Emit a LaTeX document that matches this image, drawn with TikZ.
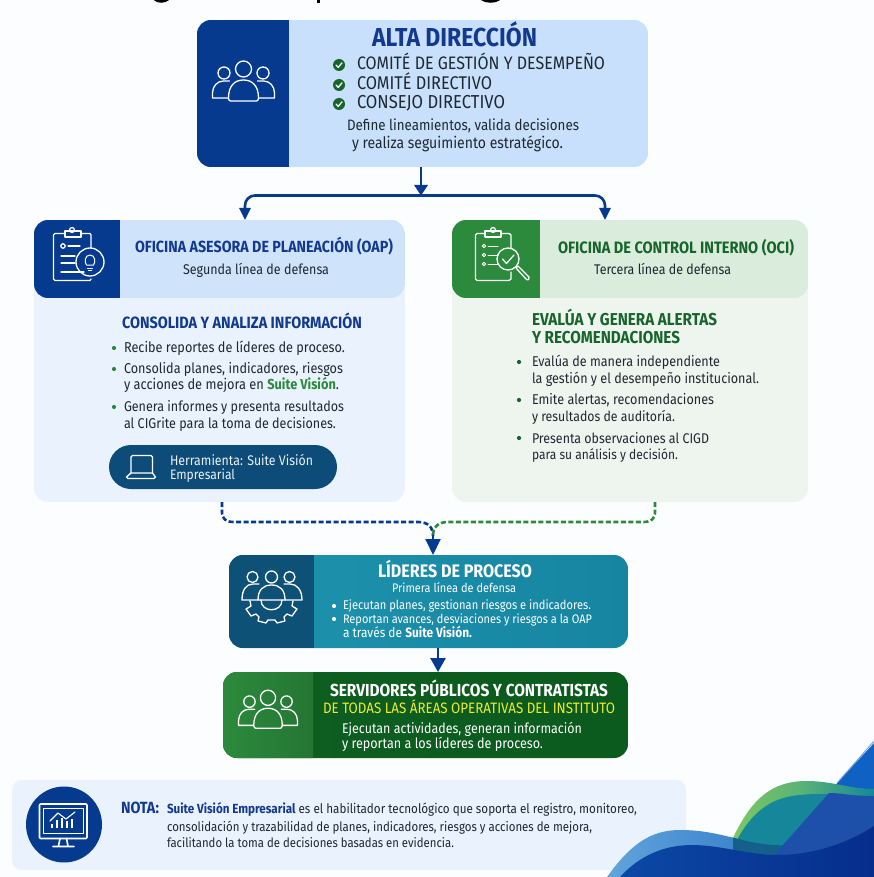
\documentclass[tikz,border=0pt]{standalone}
\usepackage{fontspec}
\usepackage{graphicx}
\setmainfont{Fira Sans}
\usetikzlibrary{arrows.meta,calc}
\definecolor{navy}{HTML}{053A8E}
\definecolor{headnavy}{HTML}{12398F}
\definecolor{topfill}{HTML}{C8E0FB}
\definecolor{oaphead}{HTML}{CFE3FB}
\definecolor{oapbody}{HTML}{EAF3FD}
\definecolor{ocihead}{HTML}{DAECDB}
\definecolor{ocibody}{HTML}{EEF5EF}
\definecolor{green1}{HTML}{2B8A3C}
\definecolor{headgreen}{HTML}{17652B}
\definecolor{inktext}{HTML}{1E2830}
\definecolor{pillblue}{HTML}{0D4B78}
\definecolor{tealA}{HTML}{1E93AE}
\definecolor{tealB}{HTML}{1685A2}
\definecolor{tealdark}{HTML}{0D5176}
\definecolor{greendark}{HTML}{0B5A1E}
\definecolor{yellowtxt}{HTML}{EDED2E}
\definecolor{notefill}{HTML}{E9F2FD}
\definecolor{pagebg}{HTML}{FCFDFE}
\definecolor{wLight}{HTML}{3F86CC}
\definecolor{wLighter}{HTML}{62A6DC}
\definecolor{wBandA}{HTML}{15608A}
\definecolor{wBandB}{HTML}{1D50A6}
\definecolor{wTeal}{HTML}{16879A}
\definecolor{wBlue}{HTML}{1C50AA}
\definecolor{wTop}{HTML}{0F62C4}
\definecolor{wNavyA}{HTML}{0C48A5}
\definecolor{wNavyB}{HTML}{062D8C}
\definecolor{wGreen}{HTML}{7CC863}
\tikzset{
  txt/.style={inner sep=0pt,outer sep=0pt,anchor=base west,text=inktext,font=\fontsize{14}{16}\selectfont},
  hb/.style={txt,font=\fontsize{14}{16}\selectfont\bfseries},
  icon/.style={draw=white,line width=1.3pt,line join=round,line cap=round,fill=none},
  conn/.style={draw=navy,line width=2pt},
  cardnode/.style={inner sep=0pt,outer sep=0pt,anchor=north west}
}
\newcommand\T[6][]{\node[txt,#1] (#2) at (#3,#4) {\scalebox{1}[1.13]{\resizebox{#5pt}{!}{#6}}};}
\newcommand\card[9]{%
  \node[cardnode,minimum width=#4pt-#2pt,minimum height=#5pt-#3pt] (#1) at (#2,#3) {};
  \begin{scope}
    \clip[rounded corners=#6pt] (#2,#3) rectangle (#4,#5);
    \path[#7] (#2,#3) rectangle (#4,#5);
    \path[#9] (#2,#3) rectangle (#8,#5);
  \end{scope}}
\newcommand\people[3]{%
  \begin{scope}[shift={(#1,#2)},scale=#3]
    \draw[icon] (0,-16) circle[radius=8];
    \draw[icon] (-15,13) .. controls (-15,1) and (-9,-5) .. (0,-5) .. controls (9,-5) and (15,1) .. (15,13) .. controls (15,15) and (14,16) .. (13,16) -- (-13,16) .. controls (-14,16) and (-15,15) .. (-15,13) -- cycle;
    \draw[icon] (-19.5,-12) circle[radius=6];
    \draw[icon] (19.5,-12) circle[radius=6];
    \draw[icon] (-15,13) -- (-31,13) -- (-31,8) .. controls (-31,1) and (-26,-4) .. (-20,-4) -- (-14,-4);
    \draw[icon] (15,13) -- (31,13) -- (31,8) .. controls (31,1) and (26,-4) .. (20,-4) -- (14,-4);
  \end{scope}}
\newcommand\chk[2]{%
  \fill[headgreen] (#1,#2) circle[radius=6];
  \draw[white,line width=1.3pt,line cap=round,line join=round] (#1-3,#2) -- (#1-.8,#2+2.4) -- (#1+3,#2-2.2);}
\newcommand\bul[3]{\fill[#3] (#1,#2) circle[radius=2.1];}
\begin{document}
\begin{tikzpicture}[x=1pt,y=-1pt]
\useasboundingbox (0,0) rectangle (874,877);
\fill[pagebg] (0,0) rectangle (874,877);
% cut-off title: only the descenders remain
\begin{scope}
  \clip (0,0) rectangle (874,877);
  \draw[black,line width=3pt,line cap=round] (155,-1) .. controls (158,2) and (164,2) .. (168,-1);
  \draw[black,line width=3.4pt] (318.5,-2) -- (318.5,3);
  \draw[black,line width=3pt,line cap=round] (482,-1) .. controls (486,2) and (495,2) .. (499,-1);
\end{scope}

% ---- note box first: the waves overlap it
\node[cardnode,minimum width=674pt,minimum height=90pt,rounded corners=10pt,fill=notefill] (note) at (12,780) {};
\node[circle,fill=navy,minimum size=76pt,inner sep=0pt] (notec) at (64,824.5) {};
\T[hb,text=headnavy]{n0}{121}{813}{38}{NOTA:}
\T{n1}{167}{813}{470}{\textcolor{headnavy}{\bfseries Suite Visión Empresarial} es el habilitador tecnológico que soporta el registro, monitoreo,}
\T{n2}{167}{831}{425}{consolidación y trazabilidad de planes, indicadores, riesgos y acciones de mejora,}
\T{n3}{167}{847}{287}{facilitando la toma de decisiones basadas en evidencia.}
% monitor
\draw[icon,line width=1.6pt,rounded corners=1pt] (39.5,804) rectangle (87,838.5);
\draw[icon,line width=1pt] (43.5,808) rectangle (83,833.5);
\draw[icon,line width=1.6pt] (60,838.5) -- (58.5,846) (66.5,838.5) -- (68,846) (53,846.5) -- (74,846.5);
\draw[icon,line width=1.1pt] (50,821) -- (58,813) -- (66,819) -- (75,812);
\foreach \xx/\hh in {52/4,57/8,62/10,67/7,72/9}{\draw[white,line width=2.2pt] (\xx,828) -- (\xx,828-\hh);}

% ---- decoration
\begin{scope}
  \clip (0,0) rectangle (874,877);
  \fill[wTop] (874,743) -- (838,782) -- (800,830) -- (874,830) -- cycle;
  \draw[white!35!wTop,line width=.8pt] (874,741) -- (838,782);
  \shade[left color=wGreen,right color=wTeal,middle color=wGreen!65!wTeal]
    (733,838) .. controls (752,798) and (772,781) .. (807,781) .. controls (832,781) and (850,789) .. (874,789) -- (874,860) -- (733,860) -- cycle;
  \fill[wTeal] (738,838) .. controls (755,808) and (775,797) .. (800,795) .. controls (830,792) and (850,797) .. (874,794) -- (874,860) -- (738,860) -- cycle;
  \fill[wBlue] (829,793) -- (783,845) -- (757,877) -- (874,877) -- (874,796) .. controls (855,797) and (845,793) .. (829,793) -- cycle;
  \begin{scope}
    \clip (607,877) .. controls (630,845) and (650,830) .. (680,830) .. controls (705,830) and (720,835) .. (735,838) .. controls (760,845) and (775,846) .. (800,845) .. controls (830,843) and (855,832) .. (874,822) -- (874,877) -- cycle;
    \shade[left color=wLighter,right color=wLight] (600,820) rectangle (733,877);
    \fill[wBandA] (733,820) rectangle (790,877);
    \fill[wBandB] (783,845) -- (757,877) -- (874,877) -- (874,820) -- (804,820) -- cycle;
  \end{scope}
  \shade[left color=wNavyA,right color=wNavyB]
    (620,877) .. controls (640,855) and (665,845) .. (692,845) .. controls (720,845) and (750,855) .. (777,855) .. controls (810,855) and (845,845) .. (874,826) -- (874,877) -- cycle;
\end{scope}

% ---- top box
\card{top}{197}{20}{648}{167}{14}{fill=topfill}{289}{fill=navy}
\people{243.5}{85}{1}
\T[hb,text=headnavy]{t1}{372}{47}{165}{ALTA DIRECCIÓN}
\chk{339}{65}\chk{339}{85}\chk{339}{104}
\T{t2}{357}{70}{248}{COMITÉ DE GESTIÓN Y DESEMPEÑO}
\T{t3}{357}{90}{135}{COMITÉ DIRECTIVO}
\T{t4}{357}{109}{148}{CONSEJO DIRECTIVO}
\T{t5}{347}{131}{232}{Define lineamientos, valida decisiones}
\T{t6}{352}{149}{211}{y realiza seguimiento estratégico.}

% ---- OAP
\card{oap}{34}{220}{405}{502}{14}{fill=oapbody}{34}{fill=oapbody}
\card{oaph}{34}{220}{405}{298}{14}{fill=oaphead}{120}{fill=navy}
\T[hb,text=headnavy]{a1}{135}{253}{258}{OFICINA ASESORA DE PLANEACIÓN (OAP)}
\T{a2}{183}{274}{146}{Segunda línea de defensa}
\T[hb,text=headnavy]{a3}{122}{328}{240}{CONSOLIDA Y ANALIZA INFORMACIÓN}
\bul{114}{348}{green1}\bul{114}{369}{green1}\bul{114}{407}{green1}
\T{a4}{124}{352}{221}{Recibe reportes de líderes de proceso.}
\T{a5}{124}{373}{219}{Consolida planes, indicadores, riesgos}
\T{a6}{124}{389}{215}{y acciones de mejora en \textcolor{green1}{\bfseries Suite Visión}.}
\T{a7}{124}{411}{220}{Genera informes y presenta resultados}
\T{a8}{124}{428}{212}{al CIGrite para la toma de decisiones.}
\node[cardnode,minimum width=228pt,minimum height=44pt,rounded corners=22pt,fill=pillblue] (pill) at (109,445) {};
\T[text=white!92!pillblue]{p1}{170}{465}{143}{Herramienta: Suite Visión}
\T[text=white!92!pillblue]{p2}{170}{479}{65}{Empresarial}
\draw[icon] (131,473) -- (131,457) .. controls (131,456) and (131.5,455.5) .. (132.5,455.5) -- (151,455.5) .. controls (152,455.5) and (152.5,456) .. (152.5,457) -- (152.5,473);
\draw[icon] (131,473) -- (152.5,473) -- (155.5,477) .. controls (155.5,478) and (155,478.5) .. (154,478.5) -- (128,478.5) .. controls (127,478.5) and (126.5,478) .. (126.5,477) -- cycle;
\draw[icon] (65,233.5) -- (55,233.5) -- (53.5,235) -- (53.5,279) -- (55,280.5) -- (90,280.5) -- (91,279);
\draw[icon] (81,233.5) -- (90,233.5) -- (91,235) -- (91,248);
\draw[icon] (65,237) rectangle (81,231);
\draw[icon] (72,230) circle[radius=2.5];
\draw[icon] (63,246) circle[radius=2.2];
\draw[icon] (68,246) -- (80,246);
\draw[icon] (61,256) -- (75,256);
\draw[icon] (61,263) -- (75,263);
\draw[icon] (61,272) -- (84,272);
\draw[icon] (90,262) circle[radius=14];
\draw[icon,line width=1pt] (86.5,265) .. controls (84,262) and (85,255) .. (90,255) .. controls (95,255) and (96,262) .. (93.5,265) -- cycle;
\draw[icon,line width=1pt] (87.5,268) -- (92.5,268) (88.5,270.5) -- (91.5,270.5);

% ---- OCI
\card{oci}{452}{220}{808}{502}{14}{fill=ocibody}{452}{fill=ocibody}
\card{ocih}{452}{220}{808}{298}{14}{fill=ocihead}{540}{fill=green1}
\T[hb,text=headgreen]{b1}{558}{253}{236}{OFICINA DE CONTROL INTERNO (OCI)}
\T{b2}{594}{274}{137}{Tercera línea de defensa}
\T[hb,text=headgreen]{b3}{532}{325}{185}{EVALÚA Y GENERA ALERTAS}
\T[hb,text=headgreen]{b4}{532}{343}{148}{Y RECOMENDACIONES}
\bul{519}{362}{headgreen}\bul{519}{400}{headgreen}\bul{519}{438}{headgreen}
\T{b5}{532}{366}{188}{Evalúa de manera independiente}
\T{b6}{532}{383}{227}{la gestión y el desempeño institucional.}
\T{b7}{532}{404}{182}{Emite alertas, recomendaciones}
\T{b8}{532}{421}{143}{y resultados de auditoría.}
\T{b9}{532}{443}{177}{Presenta observaciones al CIGD}
\T{b10}{532}{459}{146}{para su análisis y decisión.}
\draw[icon] (485,233.5) -- (477,233.5) -- (475.5,235) -- (475.5,279) -- (477,280.5) -- (509,280.5) -- (511,279) -- (511,272);
\draw[icon] (501,233.5) -- (509,233.5) -- (511,235) -- (511,248);
\draw[icon] (485,237) rectangle (501,231);
\draw[icon] (493,230) circle[radius=2.5];
\foreach \yy in {246,255,264}{
  \draw[icon,line width=1pt] (484,\yy) circle[radius=1.7];
  \draw[icon,line width=1pt] (488,\yy) -- (498,\yy);}
\draw[icon] (508,259) circle[radius=11];
\draw[icon] (502.5,259) -- (506.5,263.5) -- (514,255);
\draw[icon] (516,268) -- (518,266) -- (529,277) .. controls (530,279) and (528,281) .. (526,279) -- (516,268);

% ---- connectors above
\coordinate (hub) at (421,195.5);
\coordinate (inL) at (245,220);
\coordinate (inR) at (605,220);
\draw[conn] (top.south -| hub) -- (hub);
\fill[navy] (414,185) -- (428,185) -- (421,195.5) -- cycle;
\draw[conn,line width=2.6pt,rounded corners=10pt,-{Triangle[width=11pt,length=12pt]}] (hub) -| (inL);
\draw[conn,line width=2.6pt,rounded corners=10pt,-{Triangle[width=11pt,length=12pt]}] (hub) -| (inR);

% ---- Lideres
\card{lid}{229}{555}{628}{648}{14}{left color=tealA,right color=tealB}{314}{fill=tealdark}
\T[hb,text=white]{c1}{378}{577}{154}{LÍDERES DE PROCESO}
\T[text=white]{c2}{392}{592}{124}{Primera línea de defensa}
\bul{334}{606}{white}\bul{334}{619}{white}
\T[text=white]{c3}{343}{609}{248}{Ejecutan planes, gestionan riesgos e indicadores.}
\T[text=white]{c4}{343}{623}{249}{Reportan avances, desviaciones y riesgos a la OAP}
\T[text=white]{c5}{343}{637}{129}{a través de \bfseries Suite Visión.}
\draw[icon] (271.5,577) circle[radius=6];
\draw[icon] (252.5,577) circle[radius=5.5];
\draw[icon] (289.5,577) circle[radius=5.5];
\draw[icon] (258,600) .. controls (258,590) and (263,585) .. (271.5,585) .. controls (280,585) and (285,590) .. (285,600) -- cycle;
\draw[icon] (258,600) -- (242,600) .. controls (242,590) and (246,584) .. (253,584) -- (259,584);
\draw[icon] (285,600) -- (302,600) .. controls (302,590) and (297,584) .. (290,584) -- (284,584);
\draw[icon] (261,600) .. controls (261,613) and (282,613) .. (282,600);
\draw[icon] (250,601) -- (251,606) -- (246,609) -- (251,616) -- (256,614) -- (259,617) -- (258,621) -- (266,623) -- (268,620) -- (275,620) -- (277,623) -- (285,621) -- (284,617) -- (287,614) -- (292,616) -- (297,609) -- (292,606) -- (293,601);

% ---- Servidores
\card{srv}{223}{672}{628}{758}{14}{left color=greendark!90!green1,right color=greendark}{313}{left color=green1,right color=green1!85!black}
\people{268}{713}{.95}
\T[hb,text=white]{d1}{330}{696}{278}{SERVIDORES PÚBLICOS Y CONTRATISTAS}
\T[text=yellowtxt]{d2}{323}{713}{292}{DE TODAS LAS ÁREAS OPERATIVAS DEL INSTITUTO}
\T[text=white]{d3}{342}{733}{240}{Ejecutan actividades, generan información}
\T[text=white]{d4}{342}{748}{201}{y reportan a los líderes de proceso.}

% ---- dashed connectors
\coordinate (fromA) at (222,502);
\coordinate (fromB) at (655,502);
\coordinate (merge) at (433,536);
\draw[draw=navy,line width=2.6pt,dash pattern=on 5pt off 2.5pt] (fromA) -- (222,512) .. controls (222,519) and (226,522) .. (234,522) -- (418,522) .. controls (428,522) and (433,527) .. (merge);
\draw[draw=green1,line width=2.6pt,dash pattern=on 5pt off 2.5pt] (fromB) -- (655,512) .. controls (655,519) and (651,522) .. (643,522) -- (448,522) .. controls (438,522) and (433,527) .. (merge);
\draw[conn,-{Triangle[width=15pt,length=16pt]}] (merge) -- (merge |- lid.north);
\coordinate (mid) at (438,648);
\draw[conn,line width=2.6pt,-{Triangle[width=15pt,length=14pt]}] (mid) -- (mid |- srv.north);
\end{tikzpicture}
\end{document}
